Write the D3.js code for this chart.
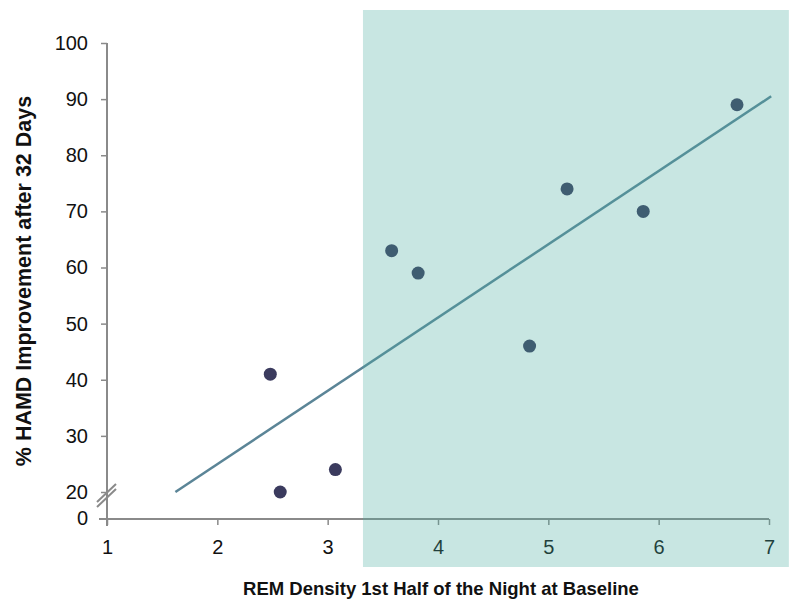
<!DOCTYPE html>
<html>
<head>
<meta charset="utf-8">
<script src="https://cdn.jsdelivr.net/npm/d3@7"></script>
<style>
  body { margin: 0; background: #fff; }
  text { font-family: "Liberation Sans", Arial, sans-serif; }
</style>
</head>
<body>
<div id="chart"></div>
<script>
const remDensity = [2.48, 2.57, 3.07, 3.58, 3.82, 4.83, 5.17, 5.86, 6.71];
const hamdImprovement = [41, 20, 24, 63, 59, 46, 74, 70, 89];
const trendX = [1.62, 7.02];
const trendY = [20, 90.5];
const shadeX = [3.32, 7.18];
const xTicks = [1, 2, 3, 4, 5, 6, 7];
const yTicks = [20, 30, 40, 50, 60, 70, 80, 90, 100];

const width = 800,
  height = 616,
  margin = ({ top: 43, right: 31, bottom: 97, left: 107 });

const x = d3.scaleLinear()
  .domain([1, 7])
  .range([margin.left, width - margin.right]);

// broken axis: 20..100 on top, 0 just below the break
const y = d3.scaleLinear()
  .domain([20, 100])
  .range([492, margin.top]);
const yZero = height - margin.bottom;

const svg = d3.select("#chart")
  .append("svg")
  .attr("width", width)
  .attr("height", height)
  .attr("viewBox", [0, 0, width, height]);

const axisColor = "#8a8a8a";

// y axis
const yAxis = svg.append("g")
  .attr("transform", `translate(${margin.left},0)`)
  .call(d3.axisLeft(y).tickValues(yTicks).tickFormat(d3.format("d")).tickSize(6).tickPadding(13));
yAxis.select(".domain").remove();
yAxis.append("line")
  .attr("x1", 0).attr("x2", 0)
  .attr("y1", margin.top).attr("y2", yZero + 7)
  .attr("stroke", axisColor).attr("stroke-width", 2);
yAxis.append("g")
  .attr("class", "tick")
  .attr("transform", `translate(0,${yZero})`)
  .call(g => g.append("text")
    .attr("x", -19).attr("dy", "0.32em")
    .attr("text-anchor", "end")
    .text("0"));

// x axis
const xAxis = svg.append("g")
  .attr("transform", `translate(0,${yZero})`)
  .call(d3.axisBottom(x).tickValues(xTicks).tickFormat(d3.format("d")).tickSize(6).tickPadding(15));
xAxis.select(".domain").remove();
xAxis.append("line")
  .attr("x1", margin.left - 8).attr("x2", x(7))
  .attr("y1", 0).attr("y2", 0)
  .attr("stroke", axisColor).attr("stroke-width", 2);

svg.selectAll(".tick line").attr("stroke", axisColor).attr("stroke-width", 1.5);
svg.selectAll(".tick text")
  .attr("fill", "#111")
  .style("font-size", "20px");

// break marks
const brk = svg.append("g").attr("stroke", "#8a8a8a").attr("stroke-width", 2);
[0, 5].forEach(off => {
  brk.append("line")
    .attr("x1", margin.left - 10).attr("y1", 507 - off)
    .attr("x2", margin.left + 9).attr("y2", 489 - off);
});

// trend line
svg.append("line")
  .attr("x1", x(trendX[0])).attr("y1", y(trendY[0]))
  .attr("x2", x(trendX[1])).attr("y2", y(trendY[1]))
  .attr("stroke", "#5b8597")
  .attr("stroke-width", 2.5);

// points
svg.append("g")
  .selectAll("circle")
  .data(remDensity)
  .join("circle")
  .attr("cx", d => x(d))
  .attr("cy", (d, i) => y(hamdImprovement[i]))
  .attr("r", 6.5)
  .attr("fill", "#3b3b5e");

// shaded region laid over the chart
svg.append("rect")
  .attr("x", x(shadeX[0]))
  .attr("y", 10)
  .attr("width", x(shadeX[1]) - x(shadeX[0]))
  .attr("height", 567 - 10)
  .attr("fill", "#48ac9e")
  .attr("fill-opacity", 0.3);

// axis titles
svg.append("text")
  .attr("x", 441)
  .attr("y", 595)
  .attr("text-anchor", "middle")
  .attr("font-weight", "bold")
  .attr("font-size", 18.5)
  .attr("fill", "#111")
  .text("REM Density 1st Half of the Night at Baseline");

svg.append("text")
  .attr("transform", "translate(31,281) rotate(-90)")
  .attr("text-anchor", "middle")
  .attr("font-weight", "bold")
  .attr("font-size", 21.5)
  .attr("fill", "#111")
  .text("% HAMD Improvement after 32 Days");
</script>
</body>
</html>
